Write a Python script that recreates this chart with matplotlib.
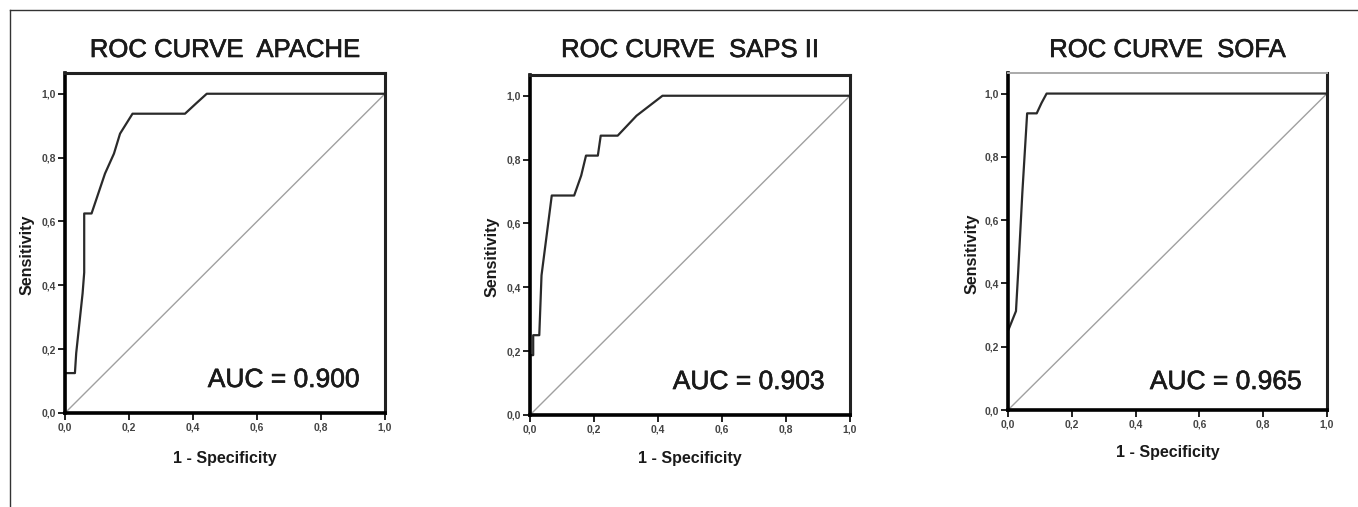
import matplotlib
matplotlib.use("Agg")
import matplotlib.pyplot as plt
import matplotlib.patheffects as pe
from matplotlib.lines import Line2D
import numpy as np

plt.rcParams['font.family'] = ['Liberation Sans', 'DejaVu Sans']

# ROC curve points (1 - specificity, sensitivity)
apache_fpr = [0.0, 0.0, 0.031, 0.035, 0.055, 0.06, 0.06, 0.083, 0.125, 0.153, 0.172, 0.211, 0.375, 0.41, 0.443, 1.0]
apache_tpr = [0.0, 0.125, 0.125, 0.1875, 0.375, 0.44, 0.625, 0.625, 0.75, 0.8125, 0.875, 0.9375, 0.9375, 0.97, 1.0, 1.0]

saps_fpr = [0.0, 0.0, 0.01, 0.01, 0.029, 0.036, 0.068, 0.138, 0.16, 0.175, 0.212, 0.221, 0.274, 0.333, 0.414, 1.0]
saps_tpr = [0.0, 0.1875, 0.1875, 0.25, 0.25, 0.4375, 0.6875, 0.6875, 0.75, 0.8125, 0.8125, 0.875, 0.875, 0.9375, 1.0, 1.0]

sofa_fpr = [0.0, 0.0, 0.025, 0.032, 0.045, 0.06, 0.09, 0.105, 0.121, 1.0]
sofa_tpr = [0.0, 0.25, 0.3125, 0.4375, 0.6875, 0.9375, 0.9375, 0.97, 1.0, 1.0]

titles = ["ROC CURVE  APACHE", "ROC CURVE  SAPS II", "ROC CURVE  SOFA"]
auc_labels = ["AUC = 0.900", "AUC = 0.903", "AUC = 0.965"]
tick_vals = [0.0, 0.2, 0.4, 0.6, 0.8, 1.0]
tick_labels = ["0,0", "0,2", "0,4", "0,6", "0,8", "1,0"]

W, H = 1358, 507
fig = plt.figure(figsize=(W / 100, H / 100), dpi=100)

# axes boxes in pixels: left, top, right, bottom
boxes = [(65, 73, 385, 413), (530, 75, 850, 415), (1008, 73, 1327, 410)]
auc_y = [0.097, 0.097, 0.083]
ylab_x = [27, 492, 972]
xlab_y = [458, 458, 452]
curves = [(apache_fpr, apache_tpr), (saps_fpr, saps_tpr), (sofa_fpr, sofa_tpr)]

# slight thickening, the scanned text looks heavier than plain regular
heavy = [pe.withStroke(linewidth=0.45, foreground='#1a1a1a')]

for i, (l, t, r, b) in enumerate(boxes):
    ax = fig.add_axes([l / W, 1 - b / H, (r - l) / W, (b - t) / H])
    fpr, tpr = curves[i]
    ax.plot([0, 1], [0, 1], color='#a0a0a0', lw=1.0)
    ax.plot(fpr, tpr, color='#2a2a2a', lw=1.6, solid_joinstyle='round')
    ax.set_xlim(0, 1)
    ax.set_ylim(0, 1.065)
    ax.set_xticks(tick_vals)
    ax.set_xticklabels(tick_labels, fontweight='bold')
    ax.set_yticks(tick_vals)
    ax.set_yticklabels(tick_labels, fontweight='bold')
    ax.tick_params(direction='out', length=5, width=1.4, labelsize=7.5, pad=1.5,
                   colors='#222222', labelcolor='#444444')
    for s in ['left', 'bottom']:
        ax.spines[s].set_linewidth(2.6)
        ax.spines[s].set_color('black')
    ax.spines['right'].set_linewidth(2.2)
    ax.spines['right'].set_color('#222222')
    if i == 2:
        ax.spines['top'].set_linewidth(1.4)
        ax.spines['top'].set_color('#aaaaaa')
    else:
        ax.spines['top'].set_linewidth(2.2)
        ax.spines['top'].set_color('#222222')
    ax.text(0.92, auc_y[i], auc_labels[i], transform=ax.transAxes, ha='right', va='center',
            fontsize=19, color='#1a1a1a', path_effects=heavy)
    fig.text((l + r) / 2 / W, 1 - 50 / H, titles[i], ha='center', va='center',
             fontsize=18.5, color='#1a1a1a', path_effects=heavy)
    fig.text(ylab_x[i] / W, 1 - ((t + b) / 2 + 12) / H, "Sensitivity", rotation=90,
             ha='center', va='center', fontsize=11.5, fontweight='bold', color='#1a1a1a')
    fig.text((l + r) / 2 / W, 1 - xlab_y[i] / H, "1 - Specificity", ha='center', va='center',
             fontsize=11.5, fontweight='bold', color='#1a1a1a')

# outer frame of the scanned figure (top and left edges)
fig.add_artist(Line2D([10 / W, 1], [1 - 10 / H, 1 - 10 / H], color='#333333', lw=1.0))
fig.add_artist(Line2D([10 / W, 10 / W], [0, 1 - 10 / H], color='#333333', lw=1.0))

fig.savefig("out.png", dpi=100)
